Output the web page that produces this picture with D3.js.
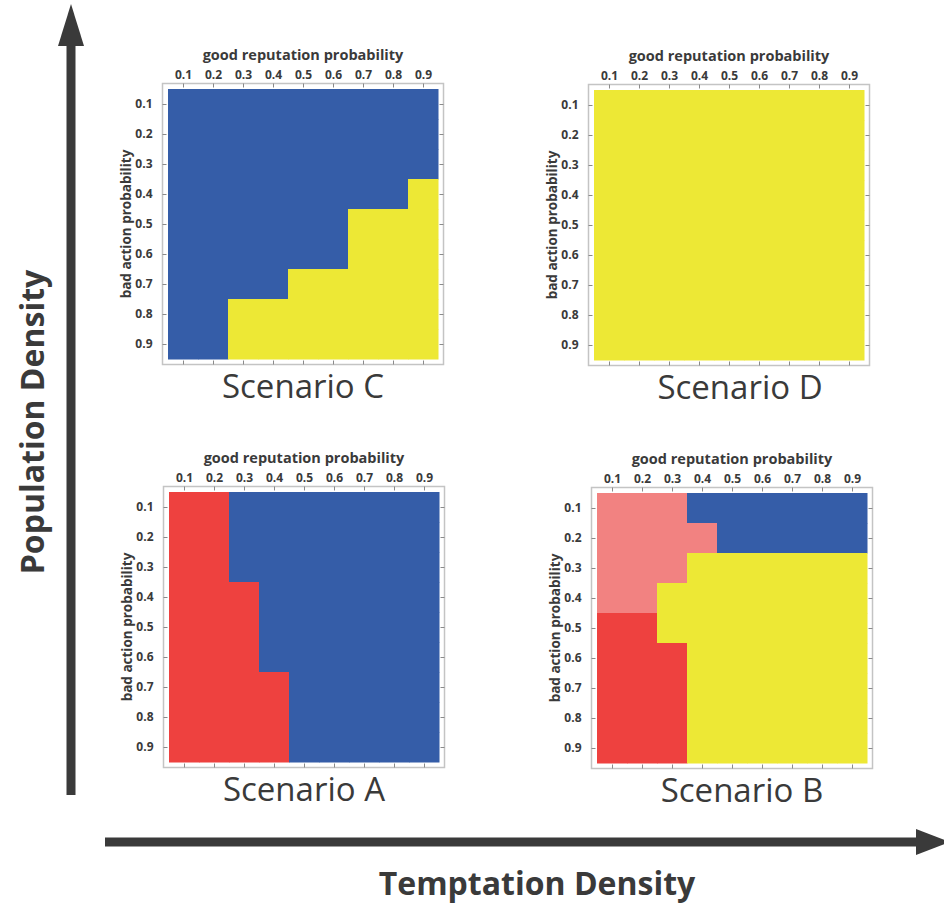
<!DOCTYPE html>
<html>
<head>
<meta charset="utf-8">
<script src="https://cdn.jsdelivr.net/npm/d3@7"></script>
<style>
  body { margin: 0; background: #fff; }
  text { fill: #3a3a3a; font-family: "Open Sans", sans-serif; }
</style>
</head>
<body>
<svg id="chart" width="944" height="905"></svg>
<script>
// axis categories
const goodRep = [0.1, 0.2, 0.3, 0.4, 0.5, 0.6, 0.7, 0.8, 0.9];
const badAction = [0.1, 0.2, 0.3, 0.4, 0.5, 0.6, 0.7, 0.8, 0.9];

// outcome per cell, one string per bad action row, one letter per good reputation column
// B = blue, Y = yellow, R = red, P = pink
const scenarioA = [
  "RRBBBBBBB", "RRBBBBBBB", "RRBBBBBBB",
  "RRRBBBBBB", "RRRBBBBBB", "RRRBBBBBB",
  "RRRRBBBBB", "RRRRBBBBB", "RRRRBBBBB"
];
const scenarioB = [
  "PPPBBBBBB", "PPPPBBBBB", "PPPYYYYYY",
  "PPYYYYYYY", "RRYYYYYYY", "RRRYYYYYY",
  "RRRYYYYYY", "RRRYYYYYY", "RRRYYYYYY"
];
const scenarioC = [
  "BBBBBBBBB", "BBBBBBBBB", "BBBBBBBBB",
  "BBBBBBBBY", "BBBBBBYYY", "BBBBBBYYY",
  "BBBBYYYYY", "BBYYYYYYY", "BBYYYYYYY"
];
const scenarioD = [
  "YYYYYYYYY", "YYYYYYYYY", "YYYYYYYYY",
  "YYYYYYYYY", "YYYYYYYYY", "YYYYYYYYY",
  "YYYYYYYYY", "YYYYYYYYY", "YYYYYYYYY"
];
const scenarioNames = ["Scenario C", "Scenario D", "Scenario A", "Scenario B"];

const color = d3.scaleOrdinal()
  .domain(["B", "Y", "R", "P"])
  .range(["#355da8", "#ede835", "#ee413f", "#f28281"]);

const svg = d3.select("#chart");
const size = 270, pad = 5.5;

const x = d3.scaleBand().domain(goodRep).range([0, size]);
const y = d3.scaleBand().domain(badAction).range([0, size]);

const panels = [
  { grid: scenarioC, name: scenarioNames[0], left: 168, top: 89, labelDx: 0 },
  { grid: scenarioD, name: scenarioNames[1], left: 594, top: 90, labelDx: 11 },
  { grid: scenarioA, name: scenarioNames[2], left: 169, top: 492, labelDx: 0 },
  { grid: scenarioB, name: scenarioNames[3], left: 597, top: 493, labelDx: 10 }
];

panels.forEach(p => {
  let g = svg.append("g").attr("transform", `translate(${p.left},${p.top})`);

  let cells = [];
  p.grid.forEach((row, i) => {
    row.split("").forEach((c, j) => {
      cells.push({ gr: goodRep[j], ba: badAction[i], v: c });
    });
  });

  g.selectAll("rect.cell")
    .data(cells)
    .enter()
    .append("rect")
    .attr("class", "cell")
    .attr("x", d => x(d.gr))
    .attr("y", d => y(d.ba))
    .attr("width", x.bandwidth() + 0.5)
    .attr("height", y.bandwidth() + 0.5)
    .attr("fill", d => color(d.v));

  g.append("rect")
    .attr("x", -pad)
    .attr("y", -pad)
    .attr("width", size + 2 * pad)
    .attr("height", size + 2 * pad)
    .attr("fill", "none")
    .attr("stroke", "#c4c4c4")
    .attr("stroke-width", 1.5);

  let fmt = d3.format(".1f");
  let xc = d => x(d) + x.bandwidth() / 2;

  let top = g.append("g").attr("transform", `translate(0,${-pad})`)
    .call(d3.axisTop(d3.scalePoint().domain(goodRep).range([xc(0.1), xc(0.9)]))
      .tickSize(-4).tickPadding(5).tickFormat(fmt));
  let bottom = g.append("g").attr("transform", `translate(0,${size + pad})`)
    .call(d3.axisBottom(d3.scalePoint().domain(goodRep).range([xc(0.1), xc(0.9)]))
      .tickSize(-4).tickFormat(""));
  let yPoint = d3.scalePoint().domain(badAction)
    .range([y(0.1) + y.bandwidth() / 2, y(0.9) + y.bandwidth() / 2]);
  let left = g.append("g").attr("transform", `translate(${-pad},0)`)
    .call(d3.axisLeft(yPoint).tickSize(-4).tickPadding(10).tickFormat(fmt));
  let right = g.append("g").attr("transform", `translate(${size + pad},0)`)
    .call(d3.axisRight(yPoint).tickSize(-4).tickFormat(""));

  [top, bottom, left, right].forEach(a => {
    a.select(".domain").remove();
    a.selectAll("line").attr("stroke", "#8a8a8a");
    a.selectAll("text")
      .attr("font-family", "Open Sans, sans-serif")
      .attr("font-size", 12)
      .attr("font-weight", 700)
      .style("fill", "#3a3a3a");
  });

  g.append("text")
    .attr("x", size / 2)
    .attr("y", -29)
    .attr("text-anchor", "middle")
    .attr("font-size", 14.5)
    .attr("font-weight", 700)
    .text("good reputation probability");

  g.append("text")
    .attr("transform", `translate(-37,${size / 2}) rotate(-90)`)
    .attr("text-anchor", "middle")
    .attr("font-size", 13.5)
    .attr("font-weight", 700)
    .text("bad action probability");

  g.append("text")
    .attr("x", size / 2 + p.labelDx)
    .attr("y", size + 39)
    .attr("text-anchor", "middle")
    .attr("font-size", 33)
    .text(p.name);
});

// big arrows
const arrowColor = "#3a3a3a";
svg.append("line")
  .attr("x1", 71).attr("y1", 795)
  .attr("x2", 71).attr("y2", 40)
  .attr("stroke", arrowColor)
  .attr("stroke-width", 9);
svg.append("polygon")
  .attr("points", "71,4 58,46 84,46")
  .attr("fill", arrowColor);

svg.append("line")
  .attr("x1", 105).attr("y1", 842)
  .attr("x2", 920).attr("y2", 842)
  .attr("stroke", arrowColor)
  .attr("stroke-width", 9);
svg.append("polygon")
  .attr("points", "916,829 916,855 950,842")
  .attr("fill", arrowColor);

svg.append("text")
  .attr("x", 537)
  .attr("y", 895)
  .attr("text-anchor", "middle")
  .attr("font-size", 32)
  .attr("font-weight", 700)
  .text("Temptation Density");

svg.append("text")
  .attr("transform", "translate(44,422) rotate(-90)")
  .attr("text-anchor", "middle")
  .attr("font-size", 32)
  .attr("font-weight", 700)
  .text("Population Density");
</script>
</body>
</html>
